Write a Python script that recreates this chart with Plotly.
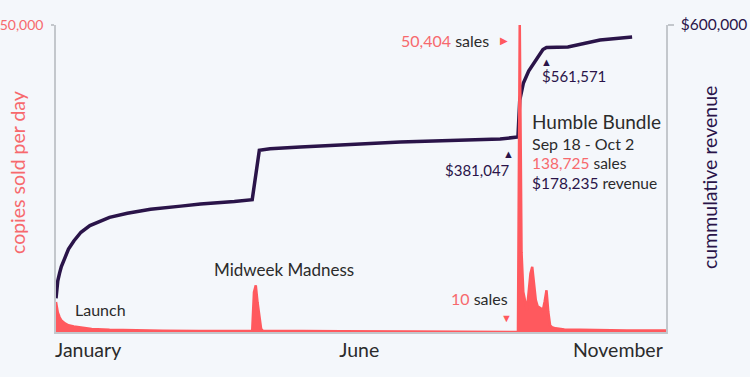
import datetime as dt
import plotly.graph_objects as go

# ---------------- data ----------------
START = dt.date(2017, 1, 1)

sales_day = [0, 1, 2, 3, 5, 7, 10, 14, 20, 30, 45, 60, 80, 100, 109, 110, 111, 112, 113, 114,
             115, 116, 130, 160, 200, 230, 245, 252, 259, 260, 261, 262, 263, 264, 265, 266, 267, 268,
             269, 270, 271, 272, 273, 274, 275, 276, 277, 278, 280, 285, 300, 320, 342]
sales_val = [4900, 3200, 2400, 1900, 1400, 1100, 900, 700, 500, 350, 250, 200, 160, 130, 120, 150, 6500, 7600, 4800, 2200,
             500, 200, 150, 120, 90, 60, 30, 15, 10, 50404, 13000, 6500, 5000, 3600, 6500, 9500, 10600, 7500,
             5200, 4200, 4000, 3800, 3600, 5000, 6800, 3300, 1100, 800, 600, 400, 300, 250, 250]

rev_day = [0, 1, 2, 3, 5, 7, 10, 14, 19, 25, 30, 40, 53, 70, 81, 100, 110, 114, 120, 137, 193, 249, 259,
           260, 262, 265, 270, 273, 275, 287, 305, 323]
rev_val = [66000, 100000, 115000, 128000, 145000, 162000, 178000, 195000, 208000, 217000, 224000, 232000,
           240000, 246000, 250000, 255000, 258500, 355000, 358000, 361600, 371300, 377200, 381047,
           453000, 486000, 510000, 535000, 552000, 556000, 557000, 570700, 576500]

month_labels = ["January", "June", "November"]
month_days = [18, 170.7, 315.8]

sales_max = 50000
rev_max = 600000

assert len(sales_day) == len(sales_val)
assert len(rev_day) == len(rev_val)


def to_date(d):
    return START + dt.timedelta(days=d)


sales_x = [to_date(d) for d in sales_day]
rev_x = [to_date(d) for d in rev_day]
tick_x = [START + dt.timedelta(days=d) for d in month_days]

# ---------------- style ----------------
BG = "#f4f7fb"
CORAL = "#ff595e"
CORAL_T = "#f7696d"
PURPLE = "#2a1449"
GREY = "#c3c7cc"
TXT = "#2b2b2b"
FONT = "Lato, Open Sans, sans-serif"

W, H = 750, 377
L, R, T, B = 56, 84, 25, 45
PW, PH = W - L - R, H - T - B


def P(x, y):
    return (x - L) / PW, (H - B - y) / PH


fig = go.Figure()

fig.add_trace(go.Scatter(
    x=rev_x, y=rev_val, mode="lines", yaxis="y",
    line=dict(color=PURPLE, width=3.5), hoverinfo="skip", showlegend=False))

fig.add_trace(go.Scatter(
    x=sales_x, y=sales_val, mode="lines", yaxis="y2", fill="tozeroy",
    fillcolor=CORAL, line=dict(color=CORAL, width=2.5), hoverinfo="skip", showlegend=False))

fig.update_layout(
    template="none",
    width=W, height=H,
    margin=dict(l=L, r=R, t=T, b=B, pad=0, autoexpand=False),
    paper_bgcolor=BG, plot_bgcolor=BG,
    font=dict(family=FONT, color=TXT),
    xaxis=dict(
        type="date", automargin=False,
        range=[START, START + dt.timedelta(days=342.5)],
        tickvals=tick_x, ticktext=month_labels, ticks="",
        tickfont=dict(size=19.5, color=TXT),
        showgrid=False, zeroline=False,
        showline=True, linecolor=GREY, linewidth=1.5,
        mirror=False,
    ),
    yaxis=dict(
        side="right", range=[0, rev_max], automargin=False,
        tickvals=[rev_max], ticktext=["$600,000"],
        ticks="outside", ticklen=6, tickcolor=GREY, tickwidth=1.5,
        ticklabelstandoff=4,
        tickfont=dict(size=15.5, color=PURPLE),
        showgrid=False, zeroline=False,
        showline=True, linecolor=GREY, linewidth=1.5,
    ),
    yaxis2=dict(
        side="left", overlaying="y", range=[0, sales_max], automargin=False,
        tickvals=[sales_max], ticktext=["50,000"],
        ticks="outside", ticklen=3, tickcolor=GREY, tickwidth=1.5,
        ticklabelstandoff=5,
        tickfont=dict(size=14, color=CORAL_T),
        showgrid=True, gridcolor=GREY, gridwidth=1.5, zeroline=False,
        showline=True, linecolor=GREY, linewidth=1.5,
    ),
)

anns = []


def add(x, y, text, size=16, color=TXT, xanchor="left", yanchor="middle", angle=0):
    px, py = P(x, y)
    anns.append(dict(x=px, y=py, xref="paper", yref="paper", text=text, showarrow=False,
                     xanchor=xanchor, yanchor=yanchor, textangle=angle,
                     font=dict(size=size, color=color, family=FONT)))


def span(t, c):
    return f"<span style='color:{c}'>{t}</span>"


# axis titles
add(17, 173, "copies sold per day", size=19.5, color=CORAL_T, xanchor="center", angle=-90)
add(709, 178, "cummulative revenue", size=19.5, color=PURPLE, xanchor="center", angle=-90)

# spike annotation
add(491, 40, span("50,404", CORAL_T) + " sales", size=16, xanchor="right")
add(504, 40, "▶", size=10, color=CORAL, xanchor="center")

# revenue markers
add(546, 61, "▲", size=11, color=PURPLE, xanchor="center")
add(540, 76, "$561,571", size=15, color=PURPLE)
add(508, 153, "▲", size=11, color=PURPLE, xanchor="center")
add(512, 170, "$381,047", size=15, color=PURPLE, xanchor="right")

# Humble bundle block
add(530, 121, "Humble Bundle", size=19)
add(530, 143, "Sep 18 - Oct 2", size=16)
add(530, 163, span("138,725", CORAL_T) + " sales", size=15.5)
add(530, 183, span("$178,235", PURPLE) + " revenue", size=15.5)

# other events
add(284, 269, "Midweek Madness", size=17, xanchor="center")
add(73, 309, "Launch", size=16)
add(510, 298, span("10", CORAL_T) + " sales", size=16, xanchor="right")
add(506, 317, "▼", size=11, color=CORAL, xanchor="center")

fig.update_layout(annotations=anns)

fig.write_html(
    "out.html",
    config={"displayModeBar": False},
    post_script="document.body.style.margin='0';document.body.style.background='" + BG + "';",
)
